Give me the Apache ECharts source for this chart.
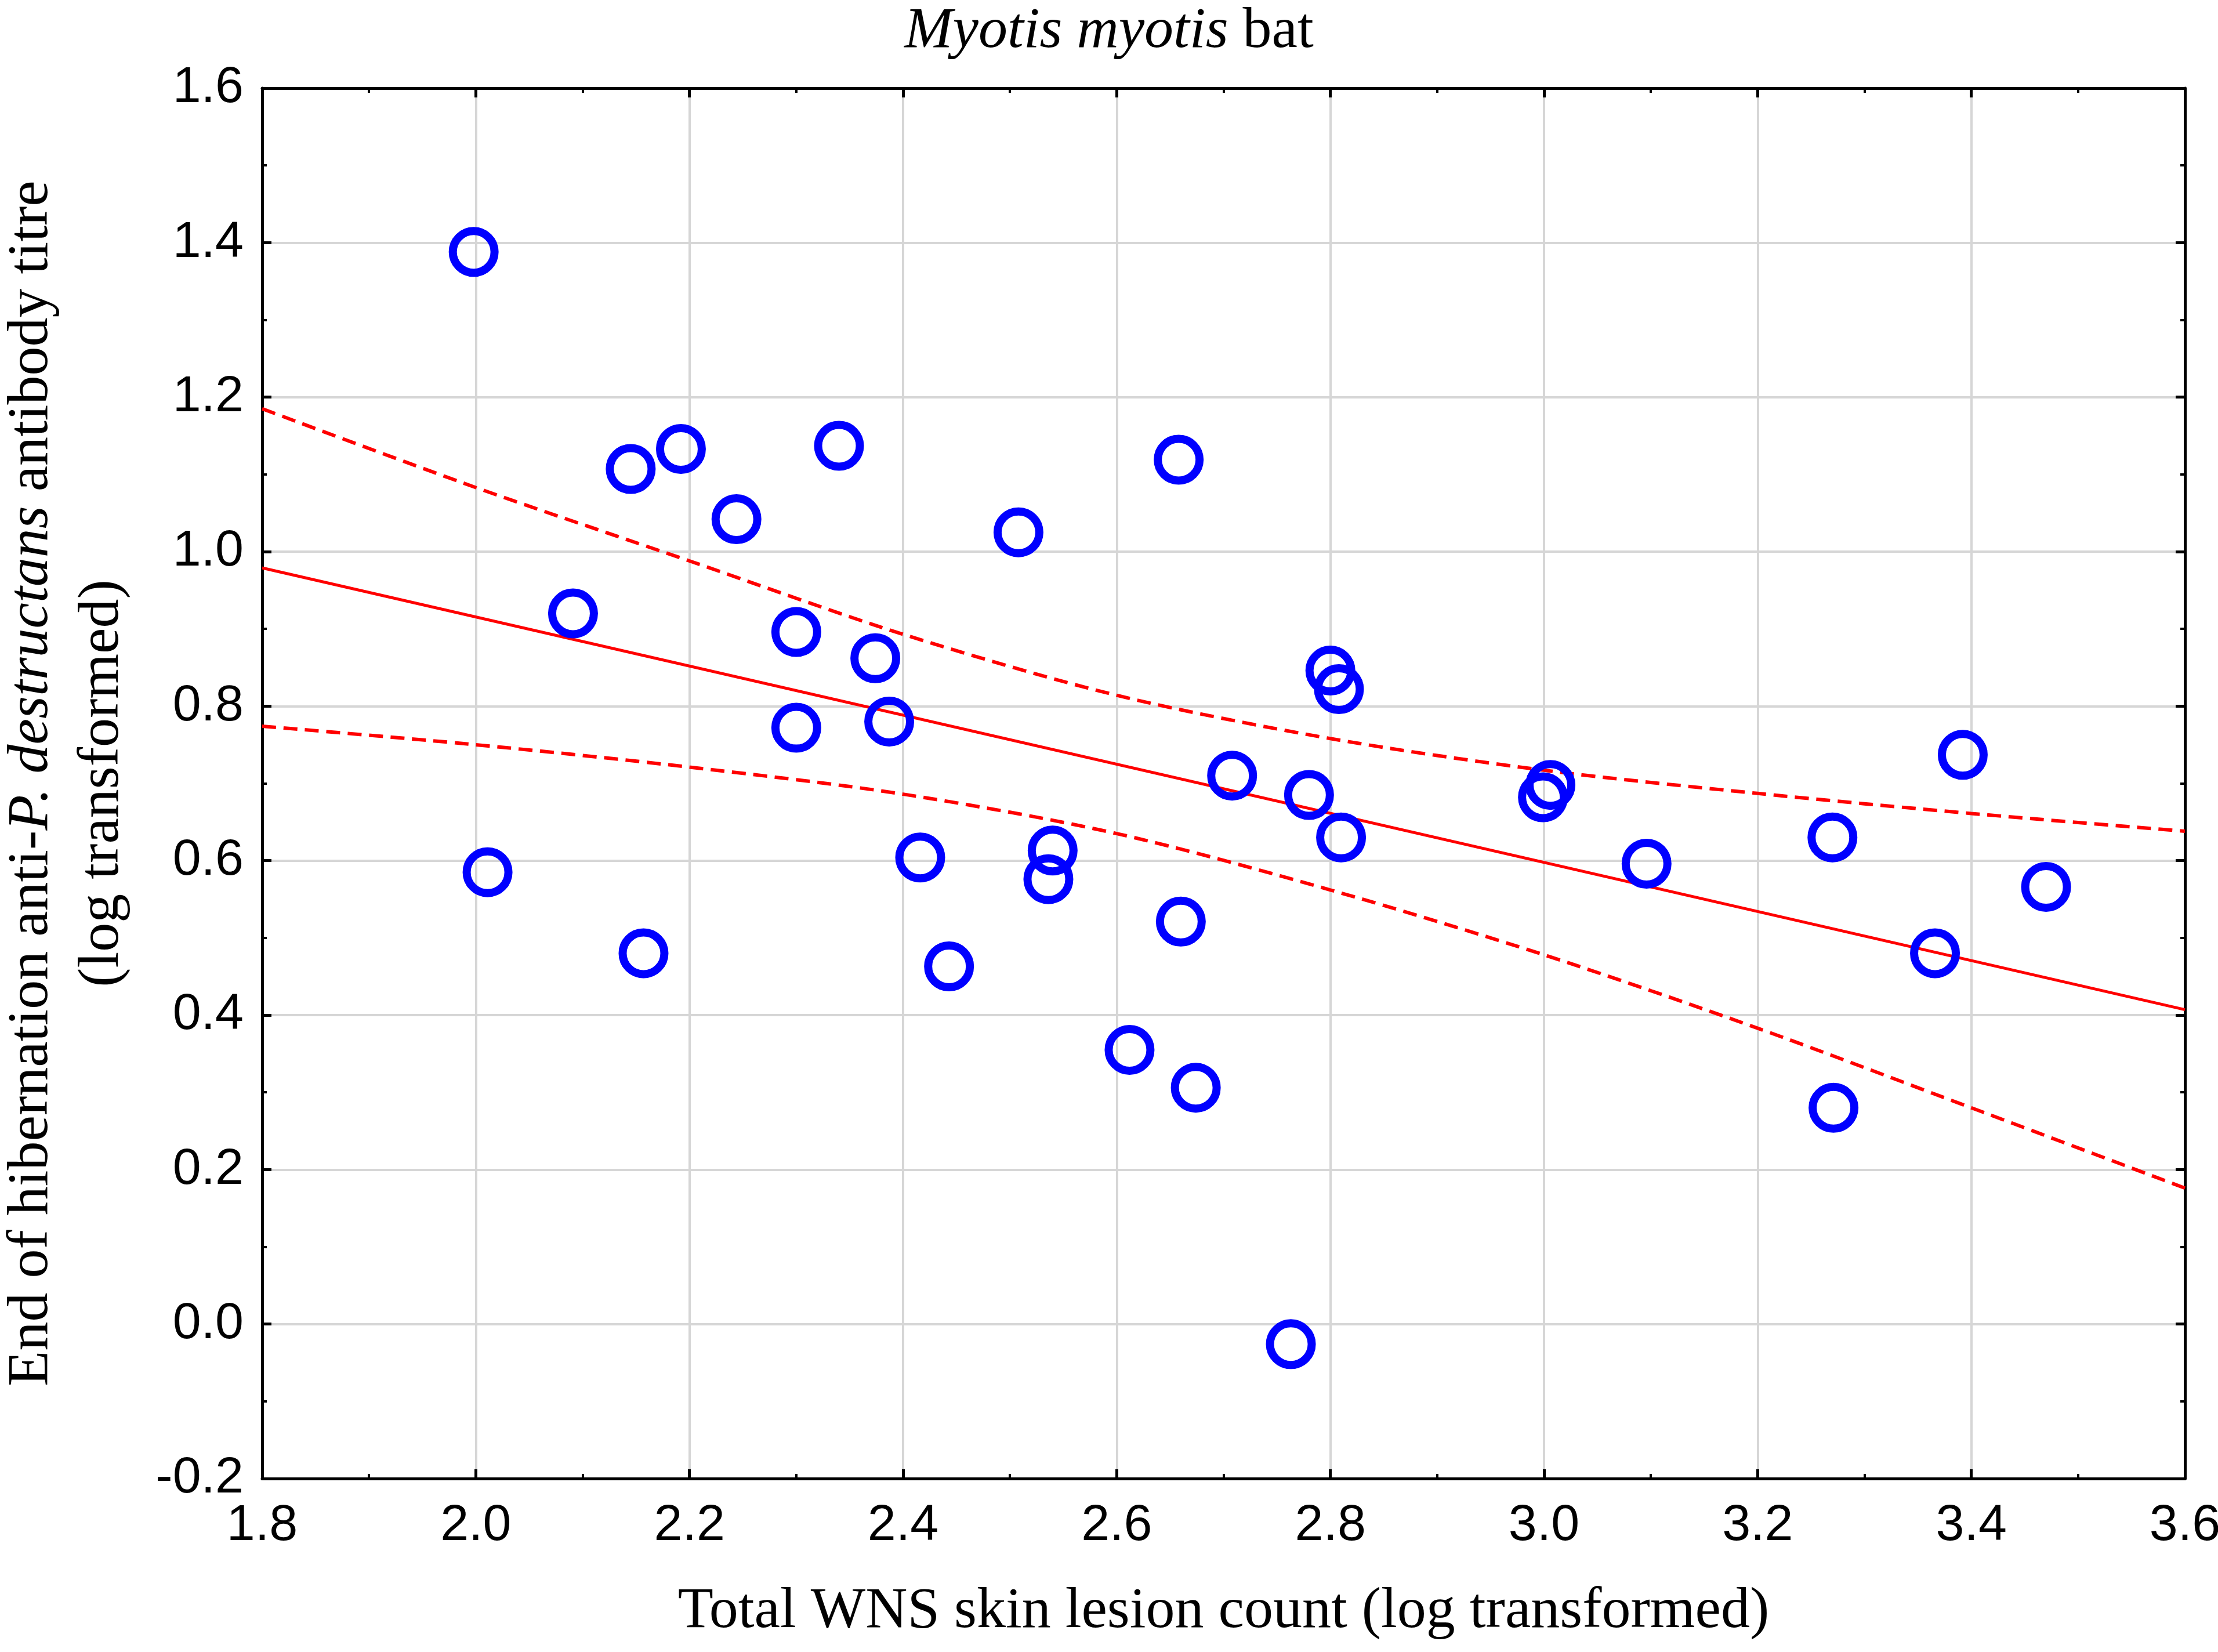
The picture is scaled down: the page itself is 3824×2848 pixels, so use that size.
<!DOCTYPE html>
<html>
<head>
<meta charset="utf-8">
<script src="https://cdn.jsdelivr.net/npm/echarts@6/dist/echarts.min.js"></script>
<style>
  html, body { margin: 0; padding: 0; background: #fff; }
  #chart { width: 3824px; height: 2848px; }
</style>
</head>
<body>
<div id="chart"></div>
<script>
// data
var lesionCount = [1.998, 2.011, 2.091, 2.145, 2.192, 2.157, 2.244, 2.300, 2.300, 2.340,
                   2.374, 2.387, 2.416, 2.443, 2.508, 2.540, 2.536, 2.612, 2.658, 2.660,
                   2.674, 2.708, 2.763, 2.780, 2.800, 2.808, 2.810, 2.999, 3.006, 3.096,
                   3.270, 3.271, 3.366, 3.392, 3.470];
var antibodyTitre = [1.388, 0.585, 0.920, 1.107, 1.133, 0.480, 1.042, 0.896, 0.772, 1.137,
                     0.862, 0.780, 0.604, 0.463, 1.025, 0.613, 0.576, 0.355, 1.119, 0.521,
                     0.306, 0.710, -0.026, 0.685, 0.846, 0.822, 0.630, 0.682, 0.698, 0.596,
                     0.630, 0.280, 0.480, 0.737, 0.566];

// fitted line and 95% band
var fitX = [1.8, 3.6];
var fitY = [0.979, 0.407];
var bandX = [1.8, 2.0, 2.2, 2.4, 2.6, 2.8, 3.0, 3.2, 3.4, 3.6];
var upperBand = [1.185, 1.083, 0.988, 0.893, 0.814, 0.758, 0.717, 0.687, 0.661, 0.638];
var lowerBand = [0.774, 0.750, 0.721, 0.686, 0.635, 0.562, 0.478, 0.383, 0.280, 0.176];

function pairs(xs, ys) {
  return xs.map(function (x, i) { return [x, ys[i]]; });
}

var serif = 'Liberation Serif';
var sans = "'Liberation Sans Narrow', 'Liberation Sans'";

var frameLine = { show: true, onZero: false, lineStyle: { color: '#000', width: 5 } };
var ticks = { show: true, inside: true, length: 16, lineStyle: { color: '#000', width: 5 } };
var minor = { show: true, splitNumber: 2, length: 8, lineStyle: { color: '#000', width: 4 } };

var chart = echarts.init(document.getElementById('chart'));

chart.setOption({
  backgroundColor: '#fff',
  animation: false,
  title: {
    text: '{i|Myotis myotis} bat',
    left: 'center',
    top: 0,
    textStyle: {
      fontFamily: serif, fontSize: 100, fontWeight: 'normal', color: '#000',
      rich: { i: { fontFamily: serif, fontSize: 100, fontStyle: 'italic', color: '#000' } }
    }
  },
  grid: { left: 452, right: 57, top: 152, bottom: 299, containLabel: false, outerBoundsMode: 'none' },
  xAxis: [{
    type: 'value', min: 1.8, max: 3.6, interval: 0.2, position: 'bottom',
    name: 'Total WNS skin lesion count (log transformed)',
    nameLocation: 'middle', nameGap: 180,
    nameTextStyle: { fontFamily: serif, fontSize: 100, color: '#000' },
    axisLine: frameLine, axisTick: ticks, minorTick: minor,
    axisLabel: {
      margin: 38, fontFamily: sans, fontSize: 88, color: '#000',
      formatter: function (v) { return v.toFixed(1); }
    },
    splitLine: { show: true, lineStyle: { color: '#d6d6d6', width: 4 } }
  }, {
    type: 'value', min: 1.8, max: 3.6, interval: 0.2, position: 'top',
    axisLine: frameLine, axisTick: ticks, minorTick: minor,
    axisLabel: { show: false }, splitLine: { show: false }
  }],
  yAxis: [{
    type: 'value', min: -0.2, max: 1.6, interval: 0.2, position: 'left',
    name: 'End of hibernation anti-{i|P. destructans} antibody titre\n(log transformed)',
    nameLocation: 'middle', nameRotate: 90, nameGap: 214,
    nameTextStyle: {
      fontFamily: serif, fontSize: 100, color: '#000', lineHeight: 122,
      rich: { i: { fontFamily: serif, fontSize: 100, fontStyle: 'italic', color: '#000', lineHeight: 122 } }
    },
    axisLine: frameLine, axisTick: ticks, minorTick: minor,
    axisLabel: {
      margin: 32, fontFamily: sans, fontSize: 88, color: '#000',
      formatter: function (v) { return v.toFixed(1); }
    },
    splitLine: { show: true, lineStyle: { color: '#d6d6d6', width: 4 } }
  }, {
    type: 'value', min: -0.2, max: 1.6, interval: 0.2, position: 'right',
    axisLine: frameLine, axisTick: ticks, minorTick: minor,
    axisLabel: { show: false }, splitLine: { show: false }
  }],
  series: [{
    type: 'line',
    data: pairs(fitX, fitY),
    showSymbol: false,
    lineStyle: { color: '#ff0000', width: 5 },
    z: 2
  }, {
    type: 'line',
    data: pairs(bandX, upperBand),
    showSymbol: false, smooth: 0.3,
    lineStyle: { color: '#ff0000', width: 6, type: [24, 13] },
    z: 2
  }, {
    type: 'line',
    data: pairs(bandX, lowerBand),
    showSymbol: false, smooth: 0.3,
    lineStyle: { color: '#ff0000', width: 6, type: [24, 13] },
    z: 2
  }, {
    type: 'scatter',
    data: pairs(lesionCount, antibodyTitre),
    symbol: 'circle',
    symbolSize: 72,
    itemStyle: { color: 'transparent', borderColor: '#0000ff', borderWidth: 14, opacity: 1 },
    z: 3
  }]
});
</script>
</body>
</html>
